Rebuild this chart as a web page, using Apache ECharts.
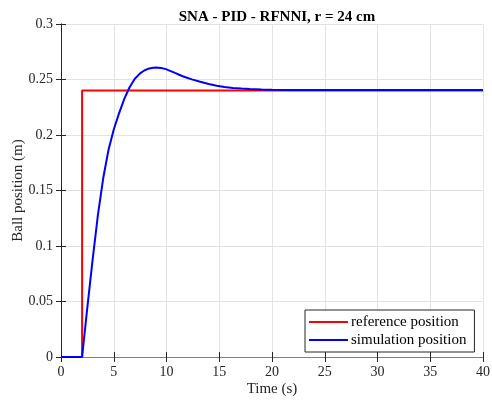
<!DOCTYPE html>
<html>
<head>
<meta charset="utf-8">
<script src="https://cdn.jsdelivr.net/npm/echarts@6/dist/echarts.min.js"></script>
<style>html,body{margin:0;padding:0;background:#fff}#c{width:492px;height:405px}</style>
</head>
<body>
<div id="c"></div>
<script>
var titleText = 'SNA - PID - RFNNI, r = 24 cm';
var xName = 'Time (s)';
var yName = 'Ball position (m)';
var seriesNames = ['reference position', 'simulation position'];

var refT = [0, 2, 2, 40];
var refV = [0, 0, 0.24, 0.24];

var simT = [0, 2.0, 2.5, 3.0, 3.5, 4.0, 4.5, 5.0, 5.5, 6.0, 6.5, 7.0, 7.5, 7.75, 8.0, 8.25, 8.5, 8.75, 9.0, 9.25, 9.5, 9.75, 10.0, 10.4, 10.8, 11.2, 11.6, 12.4, 13.2, 14.0, 14.76, 15.5, 16.3, 17.1, 17.9, 19, 20, 22, 25, 30, 35, 40];
var simV = [0, 0, 0.045, 0.088, 0.128, 0.161, 0.1865, 0.205, 0.2195, 0.2325, 0.243, 0.2507, 0.2555, 0.2572, 0.2586, 0.2596, 0.2602, 0.2606, 0.2607, 0.2606, 0.2603, 0.2598, 0.2591, 0.2576, 0.2559, 0.2543, 0.2527, 0.2501, 0.2479, 0.2460, 0.2444, 0.2432, 0.2423, 0.2418, 0.2414, 0.2410, 0.2408, 0.2406, 0.2405, 0.2405, 0.2405, 0.2405];

function pairs(a, b) { return a.map(function (v, i) { return [v, b[i]]; }); }

var font = '"Liberation Serif", "Times New Roman", serif';
var chart = echarts.init(document.getElementById('c'), null, {renderer: 'canvas'});
var G = {left: 61, right: 9, top: 24, bottom: 48, outerBoundsMode: 'none', containLabel: false};
chart.setOption({
  animation: false,
  backgroundColor: '#fff',
  title: {
    text: titleText, left: 272, top: 5, textAlign: 'center',
    textStyle: {fontFamily: font, fontSize: 15, fontWeight: 'bold', color: '#000'}
  },
  grid: G,
  legend: {
    orient: 'vertical', left: 305, top: 310,
    padding: [3, 8, 3, 4], itemGap: 0,
    itemWidth: 39, itemHeight: 2, icon: 'rect',
    borderColor: '#262626', borderWidth: 1, backgroundColor: '#fff',
    textStyle: {fontFamily: font, fontSize: 15, color: '#000', lineHeight: 18, padding: [0, 0, 0, -2]},
    data: seriesNames
  },
  xAxis: [{
    type: 'value', min: 0, max: 40, interval: 5, position: 'bottom',
    name: xName, nameLocation: 'middle', nameGap: 25, nameMoveOverlap: false,
    nameTextStyle: {fontFamily: font, fontSize: 15, color: '#262626'},
    axisLine: {lineStyle: {color: '#a0a0a0', width: 1}},
    axisTick: {inside: true, length: 5, lineStyle: {color: '#262626'}},
    axisLabel: {fontFamily: font, fontSize: 14, color: '#262626', margin: 8},
    splitLine: {show: true, lineStyle: {color: '#e3e3e3', width: 1}}
  }, {
    type: 'value', min: 0, max: 40, interval: 5, position: 'top',
    axisLine: {lineStyle: {color: '#808080', width: 1}},
    axisTick: {inside: true, length: 5, lineStyle: {color: '#262626'}},
    axisLabel: {show: false}, splitLine: {show: false}
  }],
  yAxis: [{
    type: 'value', min: 0, max: 0.3, interval: 0.05, position: 'left',
    name: yName, nameLocation: 'middle', nameGap: 35, nameMoveOverlap: false,
    nameTextStyle: {fontFamily: font, fontSize: 15, color: '#262626'},
    axisLine: {show: true, lineStyle: {color: '#a0a0a0', width: 1}},
    axisTick: {show: true, inside: true, length: 5, lineStyle: {color: '#262626'}},
    axisLabel: {fontFamily: font, fontSize: 14, color: '#262626', margin: 8},
    splitLine: {show: true, lineStyle: {color: '#e3e3e3', width: 1}}
  }, {
    type: 'value', min: 0, max: 0.3, interval: 0.05, position: 'right',
    axisLine: {show: true, lineStyle: {color: '#262626', width: 1}},
    axisTick: {show: true, inside: true, length: 5, lineStyle: {color: '#262626'}},
    axisLabel: {show: false}, splitLine: {show: false}
  }],
  series: [{
    name: seriesNames[0], type: 'line', data: pairs(refT, refV),
    showSymbol: false, symbol: 'none', color: '#ff0000',
    lineStyle: {color: '#ff0000', width: 2}, z: 3
  }, {
    name: seriesNames[1], type: 'line', data: pairs(simT, simV),
    showSymbol: false, symbol: 'none', color: '#0000ff',
    lineStyle: {color: '#0000ff', width: 2}, z: 4
  }]
});
</script>
</body>
</html>
